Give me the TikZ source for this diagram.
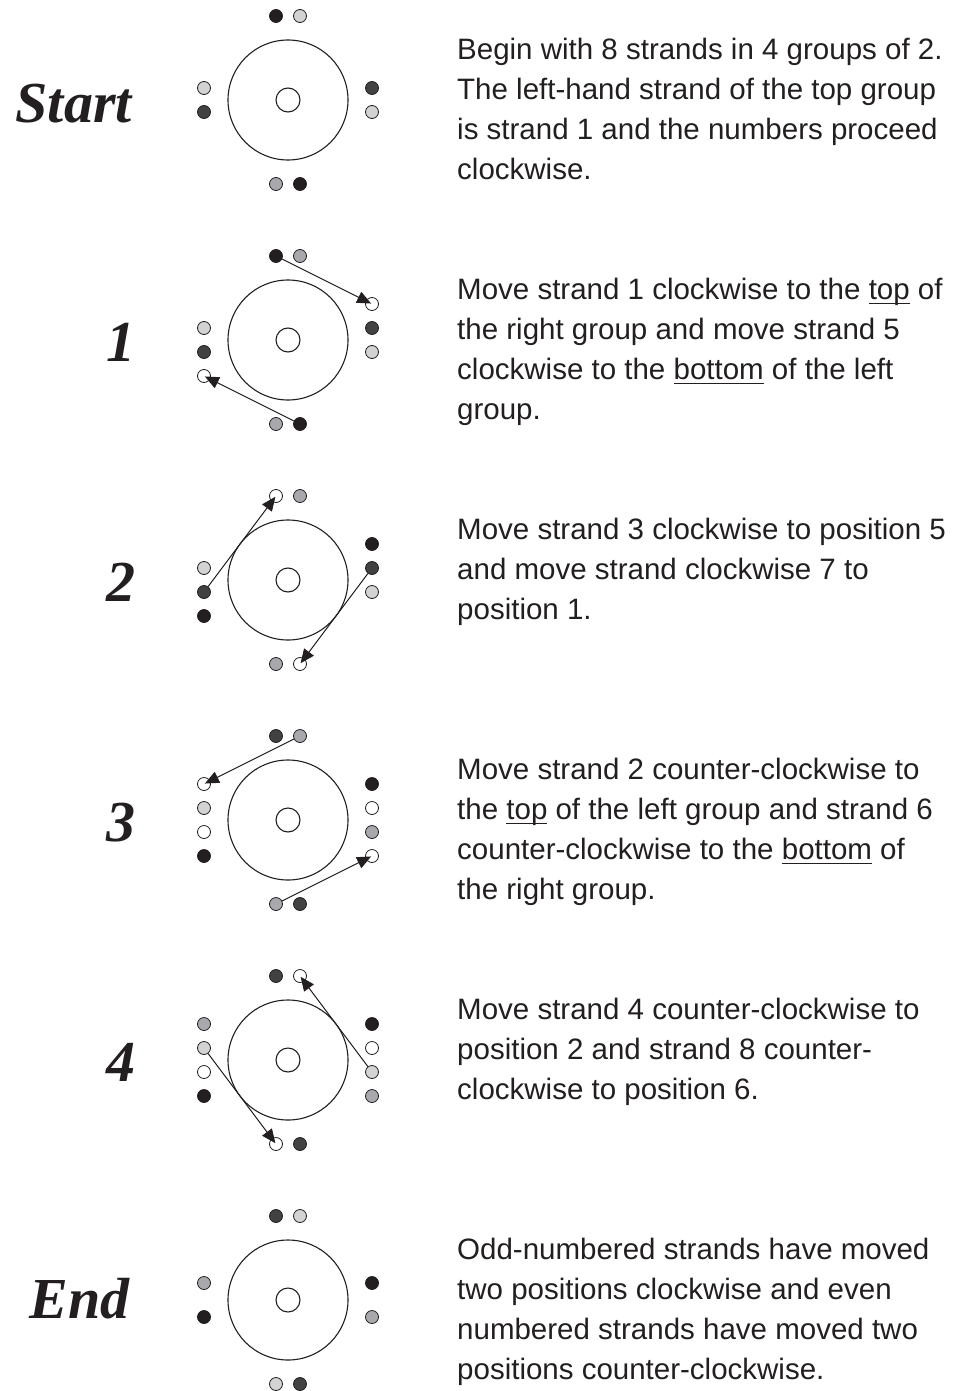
\documentclass[tikz,border=0pt]{standalone}
\usepackage{fontspec}
\setmainfont{Liberation Sans}
\newfontfamily\stepfont{Liberation Serif}
\usetikzlibrary{arrows.meta}

\definecolor{blk}{HTML}{231F20}
\definecolor{drk}{HTML}{414042}
\definecolor{mid}{HTML}{A7A9AC}
\definecolor{lgt}{HTML}{D1D3D4}
\newcommand{\undr}[1]{\setbox0=\hbox{#1}\rlap{\color{blk}\rule[-4.5pt]{\wd0}{1.2pt}}\box0\relax}

\tikzset{
  dot/.style={circle,draw=blk,line width=0.8pt,inner sep=0pt,minimum size=13pt},
  kdot/.style={dot,fill=blk}, ddot/.style={dot,fill=drk},
  mdot/.style={dot,fill=mid}, ldot/.style={dot,fill=lgt}, odot/.style={dot,fill=white},
  ring/.style={circle,draw=blk,line width=1.1pt,inner sep=0pt,minimum size=120pt},
  hub/.style={circle,draw=blk,line width=1.1pt,inner sep=0pt,minimum size=24pt},
  mv/.style={draw=blk,line width=1pt,-{Triangle[length=14pt,width=12pt]},shorten >=1pt},
  txt/.style={anchor=north west,align=left,inner sep=0pt,text=blk,
    font=\fontsize{29.5}{40}\selectfont,execute at begin node={\rule{0pt}{22pt}}},
  lbl/.style={anchor=base east,inner sep=0pt,text=blk,
    font=\stepfont\bfseries\itshape\fontsize{58}{58}\selectfont}
}

\begin{document}
\begin{tikzpicture}[x=1pt,y=-1pt]
\useasboundingbox[fill=white] (0,0) rectangle (956,1391);

\foreach \p/\y in {s/100,a/340,b/580,c/820,d/1060,e/1300}{
  \node[ring] (\p ring) at (288,\y) {};
  \node[hub] (\p hub) at (288,\y) {};
}

% start
\node[lbl] (s lbl) at (132,123) {Start};
\begin{scope}[shift={(288,100)}]
  \node[kdot] (st1) at (-12,-84) {}; \node[ldot] (st2) at (12,-84) {};
  \node[ddot] (sr1) at (84,-12) {};  \node[ldot] (sr2) at (84,12) {};
  \node[kdot] (sb1) at (12,84) {};   \node[mdot] (sb2) at (-12,84) {};
  \node[ddot] (sl1) at (-84,12) {};  \node[ldot] (sl2) at (-84,-12) {};
\end{scope}
\node[txt] (s txt) at (457,38) {Begin with 8 strands in 4 groups of 2.\\
  The left-hand strand of the top group\\
  is strand 1 and the numbers proceed\\
  clockwise.};

% step 1
\node[lbl] (a lbl) at (136,361) {1};
\begin{scope}[shift={(288,340)}]
  \node[kdot] (at1) at (-12,-84) {}; \node[mdot] (at2) at (12,-84) {};
  \node[odot] (ar0) at (84,-36) {};  \node[ddot] (ar1) at (84,-12) {};
  \node[ldot] (ar2) at (84,12) {};
  \node[kdot] (ab1) at (12,84) {};   \node[mdot] (ab2) at (-12,84) {};
  \node[odot] (al0) at (-84,36) {};  \node[ddot] (al1) at (-84,12) {};
  \node[ldot] (al2) at (-84,-12) {};
\end{scope}
\draw[mv] (at1) -- (ar0.center);
\draw[mv] (ab1) -- (al0.center);
\node[txt] (a txt) at (457,278) {Move strand 1 clockwise to the \undr{top} of\\
  the right group and move strand 5\\
  clockwise to the \undr{bottom} of the left\\
  group.};

% step 2
\node[lbl] (b lbl) at (136,601) {2};
\begin{scope}[shift={(288,580)}]
  \node[odot] (bt1) at (-12,-84) {}; \node[mdot] (bt2) at (12,-84) {};
  \node[kdot] (br0) at (84,-36) {};  \node[ddot] (br1) at (84,-12) {};
  \node[ldot] (br2) at (84,12) {};
  \node[odot] (bb1) at (12,84) {};   \node[mdot] (bb2) at (-12,84) {};
  \node[kdot] (bl0) at (-84,36) {};  \node[ddot] (bl1) at (-84,12) {};
  \node[ldot] (bl2) at (-84,-12) {};
\end{scope}
\draw[mv] (bl1) -- (bt1.center);
\draw[mv] (br1) -- (bb1.center);
\node[txt] (b txt) at (457,518) {Move strand 3 clockwise to position 5\\
  and move strand clockwise 7 to\\
  position 1.};

% step 3
\node[lbl] (c lbl) at (136,841) {3};
\begin{scope}[shift={(288,820)}]
  \node[ddot] (ct1) at (-12,-84) {}; \node[mdot] (ct2) at (12,-84) {};
  \node[kdot] (cr0) at (84,-36) {};  \node[odot] (cr1) at (84,-12) {};
  \node[mdot] (cr2) at (84,12) {};   \node[odot] (cr3) at (84,36) {};
  \node[ddot] (cb1) at (12,84) {};   \node[mdot] (cb2) at (-12,84) {};
  \node[kdot] (cl0) at (-84,36) {};  \node[odot] (cl1) at (-84,12) {};
  \node[ldot] (cl2) at (-84,-12) {}; \node[odot] (cl3) at (-84,-36) {};
\end{scope}
\draw[mv] (ct2) -- (cl3.center);
\draw[mv] (cb2) -- (cr3.center);
\node[txt] (c txt) at (457,758) {Move strand 2 counter-clockwise to\\
  the \undr{top} of the left group and strand 6\\
  counter-clockwise to the \undr{bottom} of\\
  the right group.};

% step 4
\node[lbl] (d lbl) at (136,1081) {4};
\begin{scope}[shift={(288,1060)}]
  \node[ddot] (dt1) at (-12,-84) {}; \node[odot] (dt2) at (12,-84) {};
  \node[kdot] (dr0) at (84,-36) {};  \node[odot] (dr1) at (84,-12) {};
  \node[ldot] (dr2) at (84,12) {};   \node[mdot] (dr3) at (84,36) {};
  \node[ddot] (db1) at (12,84) {};   \node[odot] (db2) at (-12,84) {};
  \node[kdot] (dl0) at (-84,36) {};  \node[odot] (dl1) at (-84,12) {};
  \node[ldot] (dl2) at (-84,-12) {}; \node[mdot] (dl3) at (-84,-36) {};
\end{scope}
\draw[mv] (dr2) -- (dt2.center);
\draw[mv] (dl2) -- (db2.center);
\node[txt] (d txt) at (457,998) {Move strand 4 counter-clockwise to\\
  position 2 and strand 8 counter-\\
  clockwise to position 6.};

% end
\node[lbl] (e lbl) at (130,1318) {End};
\begin{scope}[shift={(288,1300)}]
  \node[ddot] (et1) at (-12,-84) {}; \node[ldot] (et2) at (12,-84) {};
  \node[kdot] (er1) at (84,-17) {};  \node[mdot] (er2) at (84,17) {};
  \node[ddot] (eb1) at (12,84) {};   \node[ldot] (eb2) at (-12,84) {};
  \node[kdot] (el1) at (-84,17) {};  \node[mdot] (el2) at (-84,-17) {};
\end{scope}
\node[txt] (e txt) at (457,1238) {Odd-numbered strands have moved\\
  two positions clockwise and even\\
  numbered strands have moved two\\
  positions counter-clockwise.};
\end{tikzpicture}
\end{document}
